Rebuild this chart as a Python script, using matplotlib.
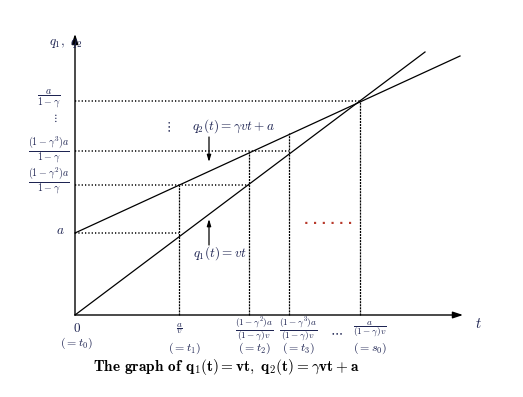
import matplotlib
matplotlib.use("Agg")
import matplotlib.pyplot as plt

plt.rcParams['mathtext.fontset'] = 'cm'
plt.rcParams['lines.scale_dashes'] = False

# ---- data (in axis units) ----
q1_t = [0.0, 3.50]
q1_q = [0.0, 2.63]
q2_t = [0.0, 3.85]
q2_q = [0.82, 2.59]

t_ticks = [0.0, 1.04, 1.74, 2.14, 2.85]
t_tick_tops = [0.0, 1.30, 1.64, 1.82, 2.14]
y_levels = [0.82, 1.30, 1.64, 2.14]
y_level_ends = [1.04, 1.74, 2.14, 2.85]

y_labels = [r'$a$', r'$\dfrac{(1-\gamma^2)a}{1-\gamma}$',
            r'$\dfrac{(1-\gamma^3)a}{1-\gamma}$', r'$\dfrac{a}{1-\gamma}$']
t_fracs = [r'$0$', r'$\dfrac{a}{v}$', r'$\dfrac{(1-\gamma^2)a}{(1-\gamma)v}$',
           r'$\dfrac{(1-\gamma^3)a}{(1-\gamma)v}$', r'$\dfrac{a}{(1-\gamma)v}$']
t_names = [r'$(=t_0)$', r'$(=t_1)$', r'$(=t_2)$', r'$(=t_3)$', r'$(=s_0)$']

TXT = '#1e2452'

fig = plt.figure(figsize=(5.23, 3.97), dpi=100)
ax = fig.add_axes([0, 0, 1, 1])
ax.set_xlim(-0.75, 4.48)
ax.set_ylim(-0.82, 3.15)
ax.axis('off')

def P(x, y):
    return ((x - 75) / 100.0, (315 - y) / 100.0)

# axes with arrows
ax.annotate('', xy=(3.88, 0), xytext=(0, 0),
            arrowprops=dict(arrowstyle='-|>,head_length=0.6,head_width=0.2', color='black', lw=1.0,
                            shrinkA=0, shrinkB=0))
ax.annotate('', xy=(0, 2.81), xytext=(0, 0),
            arrowprops=dict(arrowstyle='-|>,head_length=0.6,head_width=0.2', color='black', lw=1.0,
                            shrinkA=0, shrinkB=0))

# lines
ax.plot(q1_t, q1_q, color='black', lw=0.9)
ax.plot(q2_t, q2_q, color='black', lw=0.9)

# dotted guides
for yv, xe in zip(y_levels, y_level_ends):
    ax.plot([0, xe], [yv, yv], color='black', lw=1.1, linestyle=(0, (0.9, 1.5)))
for xv, yt in zip(t_ticks[1:], t_tick_tops[1:]):
    ax.plot([xv, xv], [0, yt], color='black', lw=0.9, linestyle=(0, (1.5, 0.7)))

# y labels
ylab_px = [(60, 231), (49, 181), (49, 150), (49, 98)]
for lab, (px, py) in zip(y_labels, ylab_px):
    ax.text(*P(px, py), lab, fontsize=7.2 if lab != r'$a$' else 9.5,
            ha='center', va='center', color=TXT)
ax.text(*P(55, 118), r'$\vdots$', fontsize=8, ha='center', va='center', color=TXT)
ax.text(*P(66, 44), r'$q_1,\ q_2$', fontsize=9.5, ha='center', va='center', color=TXT)
ax.text(*P(478, 323), r'$t$', fontsize=10.5, ha='center', va='center', color=TXT)

# t labels
frac_px = [(77, 329), (179, 329), (254, 329), (298, 329), (370, 329)]
name_px = [(76, 343), (184, 348), (254, 348), (298, 348), (370, 348)]
for i, (f, n) in enumerate(zip(t_fracs, t_names)):
    ax.text(*P(*frac_px[i]), f, fontsize=9.5 if i == 0 else 6.7,
            ha='center', va='center', color=TXT)
    ax.text(*P(*name_px[i]), n, fontsize=8.6, ha='center', va='center', color=TXT)
ax.text(*P(336, 332), r'$\cdots$', fontsize=9.5, ha='center', va='center', color=TXT)

# annotations
ax.text(*P(233, 126), r'$q_2(t)=\gamma vt+a$', fontsize=9.5, ha='center', va='center', color=TXT)
ax.annotate('', xy=P(209, 162), xytext=P(209, 137),
            arrowprops=dict(arrowstyle='-|>,head_length=0.4,head_width=0.12', color='black', lw=0.9,
                            shrinkA=0, shrinkB=0))
ax.text(*P(220, 253), r'$q_1(t)=vt$', fontsize=9.5, ha='center', va='center', color=TXT)
ax.annotate('', xy=P(209, 219), xytext=P(209, 245),
            arrowprops=dict(arrowstyle='-|>,head_length=0.4,head_width=0.12', color='black', lw=0.9,
                            shrinkA=0, shrinkB=0))
ax.text(*P(168, 127), r'$\vdots$', fontsize=9, ha='center', va='center', color=TXT)
ax.text(*P(328, 220), '. . . . . .', fontsize=8.5, fontweight='bold', ha='center', va='center',
        color='#b83a2c')

# title
ax.text(*P(226, 367), r'The graph of $\mathbf{q_1(t)=vt},\ \mathbf{q_2(t)=}\gamma\mathbf{vt+a}$',
        fontsize=11, ha='center', va='center', color='black', family='cmb10')

fig.savefig('out.png', dpi=100)
